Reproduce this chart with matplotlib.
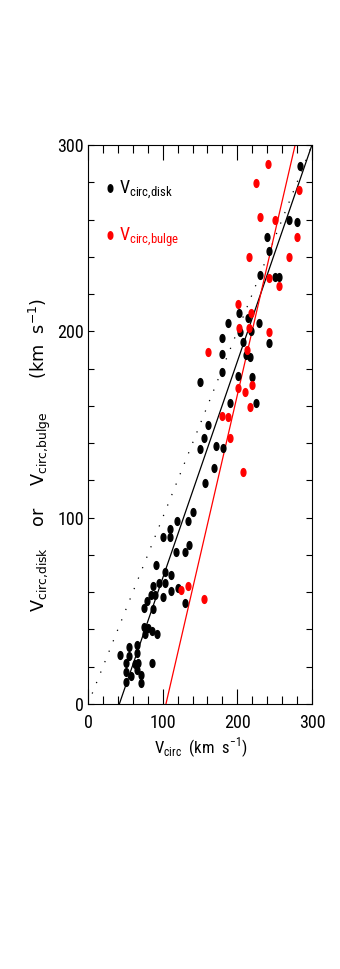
import matplotlib
matplotlib.use("Agg")
from matplotlib import pyplot as plt
from matplotlib.path import Path
from matplotlib.ticker import MultipleLocator
import matplotlib.transforms as mtransforms
import numpy as np

plt.rcParams['font.family'] = ['Roboto Condensed', 'DejaVu Sans']
plt.rcParams['mathtext.fontset'] = 'custom'
plt.rcParams['mathtext.rm'] = 'Roboto Condensed'

# V_circ vs V_circ,disk (black)
disk_x = [283.9, 269.6, 280.3, 240.2, 242.8, 230.8, 250.4, 255.3,
          202.2, 213.8, 187.0, 229.0, 203.6, 218.3, 179.9, 242.4, 208.0, 179.0, 211.2, 217.0,
          179.9, 150.0, 200.4, 220.0, 190.2, 225.0,
          160.3, 155.4, 150.0, 171.0, 180.4, 169.2, 156.3, 140.2, 119.6, 133.9, 109.8,
          109.8, 100.0, 134.9, 118.3, 130.3, 90.6, 102.7, 111.2, 95.5, 102.7, 87.0, 120.5,
          111.2, 84.8, 89.3, 100.0, 79.4, 130.3, 75.0, 87.0, 75.0, 75.9, 80.3, 85.3, 92.4,
          55.3, 43.3, 55.3, 65.2, 65.2, 50.5, 63.4, 67.4, 85.3, 66.0, 50.5, 57.2, 71.0,
          50.5, 71.0]
disk_y = [288.7, 259.8, 258.5, 250.4, 243.1, 230.2, 229.3, 229.3,
          209.7, 207.3, 204.3, 204.3, 199.4, 200.4, 196.6, 193.6, 194.5, 187.7, 187.3, 186.1,
          178.4, 173.0, 176.0, 175.7, 161.3, 161.3,
          149.7, 142.6, 136.7, 138.5, 137.2, 126.5, 118.4, 103.2, 98.4, 98.4, 94.0,
          89.6, 89.4, 85.3, 81.4, 81.4, 74.6, 71.0, 69.2, 64.8, 64.8, 63.5, 62.1,
          60.6, 58.5, 58.5, 57.2, 55.4, 54.4, 51.4, 50.8, 41.5, 37.6, 40.6, 39.2, 37.4,
          30.4, 26.3, 25.8, 31.7, 27.2, 22.2, 21.5, 22.2, 22.2, 18.2, 17.3, 15.0, 15.6,
          12.0, 11.1]

# V_circ vs V_circ,bulge (red)
bulge_x = [241.5, 224.5, 283.0, 230.8, 250.0, 280.3, 215.2, 269.6, 242.8, 255.3,
           200.4, 218.3, 202.2, 216.0, 242.4, 213.4, 160.3,
           220.0, 200.4, 210.3, 217.1, 179.9, 187.0, 190.2, 208.0,
           125.0, 133.9, 154.9]
bulge_y = [289.6, 279.8, 276.0, 261.5, 259.8, 250.8, 239.7, 239.7, 228.4, 224.5,
           214.5, 209.7, 201.6, 201.6, 199.8, 190.0, 189.1,
           171.2, 169.4, 167.3, 159.6, 154.6, 154.2, 142.6, 124.3,
           61.2, 63.3, 56.4]

# linear fits (slope, intercept)
disk_fit = (1.163, -48.8)
bulge_fit = (1.734, -181.0)

fig = plt.figure(figsize=(3.4, 9.69), dpi=100)
ax = fig.add_axes([88 / 340, 265 / 969, 224 / 340, 559 / 969])

# points look like upright ellipses in the original
ell = Path.unit_circle().transformed(mtransforms.Affine2D().scale(0.62, 1.0))

xx = np.array([0, 300])
ax.plot(xx, xx, color='black', lw=0.9, linestyle=(0, (1, 8)))
ax.plot(xx, disk_fit[0] * xx + disk_fit[1], color='black', lw=0.9)
ax.plot(xx, bulge_fit[0] * xx + bulge_fit[1], color='red', lw=0.9)

ax.plot(disk_x, disk_y, linestyle='none', marker=ell, ms=5.6, color='black')
ax.plot(bulge_x, bulge_y, linestyle='none', marker=ell, ms=5.6, color='red')

# legend
ax.plot([29.5], [277], marker=ell, ms=5.4, color='black')
ax.plot([29.5], [251.5], marker=ell, ms=5.4, color='red')
ax.text(41, 276, r'V$_{\rm circ{,}disk}$', fontsize=13, va='center', ha='left', color='black')
ax.text(41, 250.5, r'V$_{\rm circ{,}bulge}$', fontsize=13, va='center', ha='left', color='red')

ax.set_xlim(0, 300)
ax.set_ylim(0, 300)
ax.xaxis.set_major_locator(MultipleLocator(100))
ax.xaxis.set_minor_locator(MultipleLocator(20))
ax.yaxis.set_major_locator(MultipleLocator(100))
ax.yaxis.set_minor_locator(MultipleLocator(20))
ax.tick_params(axis='x', which='both', direction='in', top=True, bottom=True, width=0.8, pad=7, labelsize=13)
ax.tick_params(axis='x', which='major', length=10.5)
ax.tick_params(axis='x', which='minor', length=5.8)
ax.tick_params(axis='y', which='both', direction='in', left=True, right=True, width=0.8, length=4,
               pad=3, labelsize=13)
for s in ax.spines.values():
    s.set_linewidth(0.8)

ax.text(0.505, -0.078, r'V$_{\rm circ}$  (km  s$^{-1}$)', transform=ax.transAxes,
        ha='center', va='center', fontsize=12)
ax.text(-0.215, 0.445, r'V$_{\rm circ{,}disk}$    or    V$_{\rm circ{,}bulge}$      (km  s$^{-1}$)',
        transform=ax.transAxes, rotation=90, ha='center', va='center', fontsize=12.7,
        family='DejaVu Sans', math_fontfamily='dejavusans')

fig.savefig('out.png', dpi=100)
